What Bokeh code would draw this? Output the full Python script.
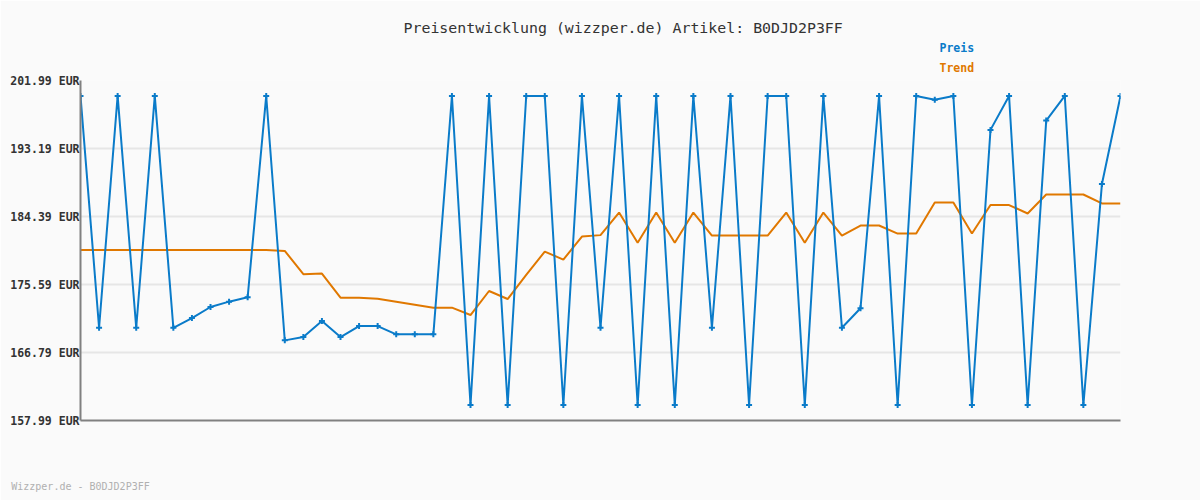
from bokeh.plotting import figure
from bokeh.models import Range1d, FixedTicker, PrintfTickFormatter, Title, ColumnDataSource
from bokeh.embed import file_html
from bokeh.resources import INLINE

# --- data ---
preis = [
    199.99, 169.99, 199.99, 169.99, 199.99, 169.99, 171.25, 172.68, 173.37, 173.94,
    199.99, 168.36, 168.79, 170.86, 168.79, 170.21, 170.21, 169.14, 169.14, 169.14,
    199.99, 159.99, 199.99, 159.99, 199.99, 199.99, 159.99, 199.99, 169.99, 199.99,
    159.99, 199.99, 159.99, 199.99, 169.99, 199.99, 159.99, 199.99, 199.99, 159.99,
    199.99, 169.99, 172.51, 199.99, 159.99, 199.99, 199.49, 199.99, 159.99, 195.60,
    199.99, 159.99, 196.80, 199.99, 159.99, 188.59, 199.99,
]
trend = [
    180.07, 180.07, 180.07, 180.07, 180.07, 180.07, 180.07, 180.07, 180.07, 180.07,
    180.07, 179.94, 176.92, 177.00, 173.88, 173.88, 173.75, 173.37, 172.98, 172.59,
    172.59, 171.64, 174.75, 173.71, 176.83, 179.85, 178.81, 181.80, 181.98, 184.90,
    180.98, 184.90, 180.98, 184.90, 181.93, 181.93, 181.93, 181.93, 184.90, 180.98,
    184.90, 181.93, 183.22, 183.22, 182.18, 182.18, 186.21, 186.21, 182.18, 185.87,
    185.87, 184.78, 187.24, 187.24, 187.24, 186.08, 186.08,
]
y_ticks = [157.99, 166.79, 175.59, 184.39, 193.19, 201.99]
title_text = "Preisentwicklung (wizzper.de) Artikel: B0DJD2P3FF"
footer_text = "Wizzper.de - B0DJD2P3FF"
series_names = ["Preis", "Trend"]

BLUE = "#0a7bc9"
ORANGE = "#e07800"
BG = "#fafafa"
FONT = "DejaVu Sans Mono"

idx = list(range(len(preis)))
src = ColumnDataSource(dict(x=idx, preis=preis, trend=trend))

p = figure(
    width=1200, height=500,
    frame_width=1040, frame_height=340,
    min_border_left=80, min_border_right=80, min_border_top=80, min_border_bottom=80,
    x_range=Range1d(0, len(preis) - 1),
    y_range=Range1d(y_ticks[0], y_ticks[-1]),
    output_backend="svg", toolbar_location=None,
    background_fill_color=BG, border_fill_color=BG,
)
p.outline_line_color = None

# grid
p.xgrid.grid_line_color = None
p.ygrid.ticker = FixedTicker(ticks=y_ticks)
p.ygrid.grid_line_color = "#e6e6e6"
p.ygrid.grid_line_width = 2

# y axis
ya = p.yaxis[0]
ya.ticker = FixedTicker(ticks=y_ticks)
ya.formatter = PrintfTickFormatter(format="%.2f EUR")
ya.axis_line_color = "#808080"
ya.axis_line_width = 2
ya.major_tick_line_color = None
ya.minor_tick_line_color = None
ya.major_tick_out = 0
ya.major_tick_in = 0
ya.minor_tick_out = 0
ya.minor_tick_in = 0
ya.major_label_standoff = 1
ya.major_label_text_font = FONT
ya.major_label_text_font_style = "bold"
ya.major_label_text_font_size = "11.5px"
ya.major_label_text_color = "#333333"

# x axis: no ticks; its label carries the footer text
xa = p.xaxis[0]
xa.axis_line_color = "#808080"
xa.axis_line_width = 2
xa.major_tick_line_color = None
xa.minor_tick_line_color = None
xa.major_tick_in = 0
xa.major_tick_out = 0
xa.minor_tick_in = 0
xa.minor_tick_out = 0
xa.major_label_text_font_size = "0px"
xa.major_label_standoff = 0
xa.ticker = FixedTicker(ticks=[])
xa.axis_label = footer_text
xa.axis_label_standoff = 60
xa.axis_label_text_font = FONT
xa.axis_label_text_font_size = "10px"
xa.axis_label_text_font_style = "normal"
xa.axis_label_text_color = "#b0b0b0"
xa.axis_label_align = "start"

# series
p.line("x", "trend", source=src, color=ORANGE, line_width=2)
p.line("x", "preis", source=src, color=BLUE, line_width=2)
p.scatter("x", "preis", source=src, marker="cross", size=6, line_color=BLUE, line_width=2)

# titles / legend texts (stacked outward from the frame)
p.add_layout(Title(text=series_names[1], align="left", offset=859, standoff=8,
                   vertical_align="top",
                   text_font=FONT, text_font_size="11.5px", text_font_style="bold",
                   text_color=ORANGE), "above")
p.add_layout(Title(text=series_names[0], align="left", offset=859, standoff=3,
                   text_font=FONT, text_font_size="11.5px", text_font_style="bold",
                   text_color=BLUE), "above")
p.add_layout(Title(text=title_text, align="left", offset=323, standoff=2,
                   text_font=FONT, text_font_size="14.9px", text_font_style="normal",
                   text_color="#333333"), "above")

open("out.html", "w").write(file_html(p, INLINE))
